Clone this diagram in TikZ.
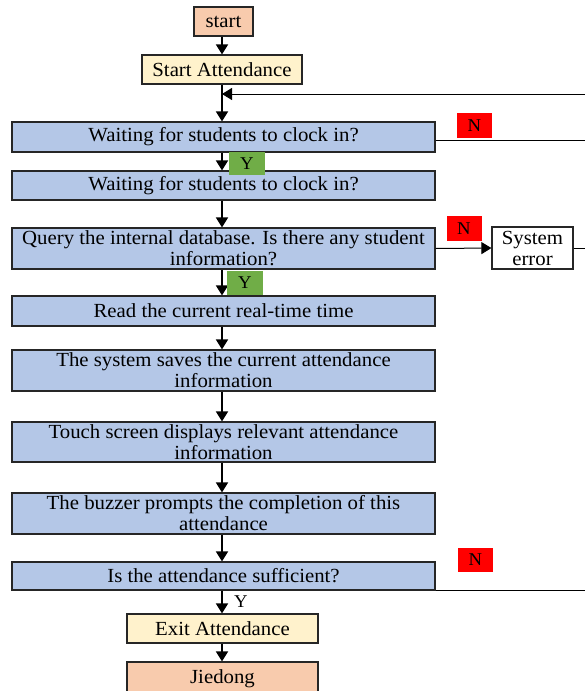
\documentclass[tikz,border=0pt]{standalone}
\usepackage{fontspec}
\setmainfont{Liberation Serif}[FakeStretch=1.04]
\usetikzlibrary{arrows.meta}
\definecolor{peach}{HTML}{F8CBAD}
\definecolor{cream}{HTML}{FFF2CC}
\definecolor{boxblue}{HTML}{B4C7E7}
\definecolor{ygreen}{HTML}{70AD47}
\tikzset{
  base/.style={draw=black!85, line width=1.2pt, inner sep=0pt, align=center,
    font=\fontsize{20}{21}\selectfont},
  proc/.style={base, fill=boxblue, minimum width=423pt},
  term/.style={base, fill=peach},
  io/.style={base, fill=cream},
  errbox/.style={base, fill=white, minimum width=81pt, minimum height=42pt},
  nlab/.style={fill=red, inner sep=0pt, minimum width=35pt, minimum height=25pt,
    font=\fontsize{18}{20}\selectfont},
  ylab/.style={fill=ygreen, inner sep=0pt, minimum width=36pt, minimum height=23pt,
    font=\fontsize{18}{20}\selectfont},
  flow/.style={line width=1.8pt, -{Triangle[length=10pt,width=12pt]}},
  thin/.style={line width=1pt},
  thinarrow/.style={line width=1pt, -{Triangle[length=10pt,width=12pt]}}
}
\begin{document}
\begin{tikzpicture}[x=1pt,y=-1pt]
\useasboundingbox (0,0) rectangle (585,691);
\clip (0,0) rectangle (585,691);
% nodes
\node[term, minimum width=59pt, minimum height=29pt] (start) at (223.5,21.5) {start};
\node[io, minimum width=160pt, minimum height=29pt] (sa) at (222,69.5) {Start Attendance};
\node[proc, minimum height=30pt] (b1) at (223.5,137) {Waiting for students to clock in?};
\node[proc, minimum height=29pt] (b2) at (223.5,185.5) {Waiting for students to clock in?};
\node[proc, minimum height=41pt] (b3) at (223.5,248.5) {Query the internal database. Is there any student\\information?};
\node[errbox] (err) at (532.5,248) {System\\error};
\node[proc, minimum height=30pt] (b4) at (223.5,311) {Read the current real-time time};
\node[proc, minimum height=41pt] (b5) at (223.5,370.5) {The system saves the current attendance\\information};
\node[proc, minimum height=40pt] (b6) at (223.5,442) {Touch screen displays relevant attendance\\information};
\node[proc, minimum height=41pt] (b7) at (223.5,513.5) {The buzzer prompts the completion of this\\attendance};
\node[proc, minimum height=28pt] (b8) at (223.5,576) {Is the attendance sufficient?};
\node[io, minimum width=191pt, minimum height=29pt] (exit) at (222.5,628.5) {Exit Attendance};
\node[term, minimum width=191pt, minimum height=36pt, text depth=0pt] (jd) at (222.5,680) {\raisebox{7pt}{Jiedong}};
% helper coordinates
\coordinate (ax) at (222,0);
\coordinate (edge) at (592,0);
\coordinate (loopL) at (222,94);
\coordinate (loopR) at (592,94);
% connectors
\draw[flow] (start.south -| ax) -- (sa.north -| ax);
\draw[flow] (sa.south -| ax) -- (b1.north -| ax);
\draw[thinarrow] (loopR) -- (loopL);
\draw[thin] (b1.east) ++(0,3) coordinate (b1r) -- (b1r -| edge);
\draw[flow] (b1.south -| ax) -- (b2.north -| ax);
\draw[flow] (b2.south -| ax) -- (b3.north -| ax);
\draw[thinarrow] (b3.east) -- (err.west);
\draw[thin] (err.east) -- (err.east -| edge);
\draw[flow] (b3.south -| ax) -- (b4.north -| ax);
\draw[flow] (b4.south -| ax) -- (b5.north -| ax);
\draw[flow] (b5.south -| ax) -- (b6.north -| ax);
\draw[flow] (b6.south -| ax) -- (b7.north -| ax);
\draw[flow] (b7.south -| ax) -- (b8.north -| ax);
\draw[thin] (b8.south east) -- (b8.south east -| edge);
\draw[flow] (b8.south -| ax) -- (exit.north -| ax);
\draw[flow] (exit.south -| ax) -- (jd.north -| ax);
% labels
\node[nlab] (n1) at (474.5,125.5) {N};
\node[nlab] (n2) at (464,228.5) {N};
\node[nlab, minimum height=24pt] (n3) at (475.5,560) {N};
\node[ylab] (y1) at (247,163.5) {Y};
\node[ylab, minimum height=24pt] (y2) at (245,283) {Y};
\node[font=\fontsize{18}{20}\selectfont, inner sep=0pt] (y3) at (241,602) {Y};
\end{tikzpicture}
\end{document}
